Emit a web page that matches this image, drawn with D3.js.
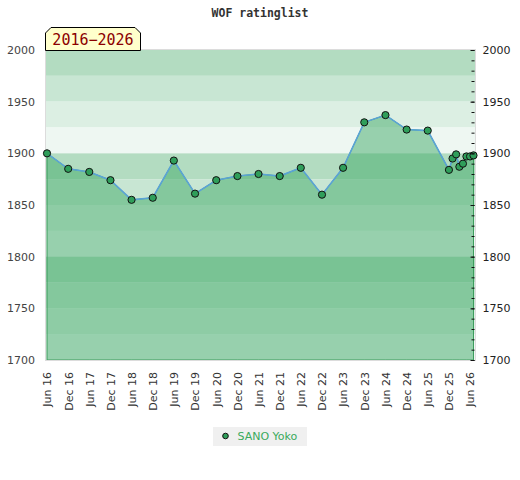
<!DOCTYPE html>
<html>
<head>
<meta charset="utf-8">
<script src="https://cdn.jsdelivr.net/npm/d3@7"></script>
<style>
  body { margin: 0; background: #fff; }
  svg { display: block; }
</style>
</head>
<body>
<div id="chart"></div>
<script>
// Rating list dates and values
const dates = [
  "2016-06", "2016-12", "2017-06", "2017-12", "2018-06", "2018-12",
  "2019-06", "2019-12", "2020-06", "2020-12", "2021-06", "2021-12",
  "2022-06", "2022-12", "2023-06", "2023-12", "2024-06", "2024-12",
  "2025-06", "2025-12", "2026-01", "2026-02", "2026-03", "2026-04",
  "2026-05", "2026-06", "2026-07"
];
const ratings = [
  1900, 1885, 1882, 1874, 1855, 1857,
  1893, 1861, 1874, 1878, 1880, 1878,
  1886, 1860, 1886, 1930, 1937, 1923,
  1922, 1884, 1895, 1899, 1887, 1890,
  1897, 1897, 1898
];
const tickDates = [
  "2016-06", "2016-12", "2017-06", "2017-12", "2018-06", "2018-12",
  "2019-06", "2019-12", "2020-06", "2020-12", "2021-06", "2021-12",
  "2022-06", "2022-12", "2023-06", "2023-12", "2024-06", "2024-12",
  "2025-06", "2025-12", "2026-06"
];
const yTicks = [1700, 1750, 1800, 1850, 1900, 1950, 2000];
const playerName = "SANO Yoko";
const chartTitle = "WOF ratinglist";
const periodLabel = "2016\u22122026";

const totalWidth = 520, totalHeight = 480;
const plot = { left: 46, right: 475, top: 50, bottom: 360 };

const parseMonth = d3.timeParse("%Y-%m");
const data = dates.map((d, i) => ({ date: parseMonth(d), value: ratings[i] }));

const svg = d3.select("#chart")
  .append("svg")
  .attr("width", totalWidth)
  .attr("height", totalHeight)
  .style("font-family", "'DejaVu Sans', sans-serif");

// Scales
const x = d3.scaleTime()
  .domain(d3.extent(data, d => d.date))
  .range([plot.left + 1, plot.right - 1.5]);

const y = d3.scaleLinear()
  .domain([1700, 2000])
  .range([plot.bottom, plot.top]);

// Background bands, 25 points each, repeating every 100
const bandColors = ["#b3dcc1", "#c8e6d3", "#dcefe3", "#eef7f2"];
const bands = d3.range(2000, 1700, -25);
svg.append("g")
  .selectAll("rect")
  .data(bands)
  .enter()
  .append("rect")
  .attr("x", plot.left)
  .attr("width", plot.right - plot.left)
  .attr("y", d => y(d))
  .attr("height", d => y(d - 25) - y(d))
  .attr("fill", (d, i) => bandColors[i % 4]);

// Area under the rating line
const area = d3.area()
  .x(d => x(d.date))
  .y0(y(1700))
  .y1(d => y(d.value));

svg.append("path")
  .datum(data)
  .attr("d", area)
  .attr("fill", "rgb(64,170,104)")
  .attr("fill-opacity", 0.5)
  .attr("stroke", "#3c9c5c")
  .attr("stroke-width", 1);

// Plot frame
svg.append("rect")
  .attr("x", plot.left - 0.5)
  .attr("y", plot.top - 0.5)
  .attr("width", plot.right - plot.left + 1)
  .attr("height", plot.bottom - plot.top + 1)
  .attr("fill", "none")
  .attr("stroke", "#dcdcdc");

// Rating line
const line = d3.line()
  .x(d => x(d.date))
  .y(d => y(d.value));

svg.append("path")
  .datum(data)
  .attr("d", line)
  .attr("fill", "none")
  .attr("stroke", "#5ba3d6")
  .attr("stroke-width", 1.6);

// Points
svg.append("g")
  .selectAll("circle")
  .data(data)
  .enter()
  .append("circle")
  .attr("cx", d => x(d.date))
  .attr("cy", d => y(d.value))
  .attr("r", 3.6)
  .attr("fill", "#2f9e5a")
  .attr("stroke", "#111")
  .attr("stroke-width", 1);

// Left axis: labels only
const leftAxis = svg.append("g")
  .attr("transform", `translate(${plot.left},0)`)
  .call(d3.axisLeft(y).tickValues(yTicks).tickSize(0).tickPadding(11).tickFormat(d3.format("d")));
leftAxis.select(".domain").remove();
leftAxis.selectAll("text")
  .attr("fill", "#444")
  .style("font-size", "11px")
  .style("font-family", "'DejaVu Sans', sans-serif");

// Right axis: minor ticks every 10, labels every 50
const rightMinor = svg.append("g")
  .attr("transform", `translate(${plot.right - 0.5},0)`)
  .call(d3.axisRight(y).tickValues(d3.range(1700, 2001, 10)).tickSize(-3).tickFormat(""));
rightMinor.select(".domain").remove();
rightMinor.selectAll("line").attr("stroke", "#111");

const rightAxis = svg.append("g")
  .attr("transform", `translate(${plot.right - 0.5},0)`)
  .call(d3.axisRight(y).tickValues(yTicks).tickSize(-4).tickPadding(8).tickFormat(d3.format("d")));
rightAxis.select(".domain").remove();
rightAxis.selectAll("line").attr("stroke", "#111");
rightAxis.selectAll("text")
  .attr("fill", "#222")
  .style("font-size", "11px")
  .style("font-family", "'DejaVu Sans', sans-serif");

// Bottom axis: rotated month labels
const xAxis = svg.append("g")
  .attr("transform", `translate(0,${plot.bottom})`)
  .call(d3.axisBottom(x)
    .tickValues(tickDates.map(parseMonth))
    .tickSize(0)
    .tickFormat(d3.timeFormat("%b %y")));
xAxis.select(".domain").remove();
xAxis.selectAll("text")
  .attr("fill", "#333")
  .style("font-size", "11px")
  .style("font-family", "'DejaVu Sans', sans-serif")
  .attr("text-anchor", "end")
  .attr("dy", "0.35em")
  .attr("transform", "translate(0,12) rotate(-90)")
  .attr("x", 0)
  .attr("y", 0);

// Title
svg.append("text")
  .attr("x", totalWidth / 2)
  .attr("y", 17)
  .attr("text-anchor", "middle")
  .attr("fill", "#333")
  .style("font-family", "'DejaVu Sans Mono', monospace")
  .style("font-weight", "bold")
  .style("font-size", "11.5px")
  .text(chartTitle);

// Period tag above the plot
const tagL = 45.5, tagR = 140.5, tagT = 27.5, tagB = 50.5, cut = 5.5;
svg.append("path")
  .attr("d", `M${tagL},${tagB} L${tagL},${tagT + cut} L${tagL + cut},${tagT} L${tagR - cut},${tagT} L${tagR},${tagT + cut} L${tagR},${tagB} Z`)
  .attr("fill", "#ffffcc")
  .attr("stroke", "#000")
  .attr("stroke-width", 1);

svg.append("text")
  .attr("x", (tagL + tagR) / 2)
  .attr("y", 45)
  .attr("text-anchor", "middle")
  .attr("fill", "#8b0000")
  .style("font-family", "'DejaVu Sans Mono', monospace")
  .style("font-size", "15px")
  .text(periodLabel);

// Legend
const legend = svg.append("g").attr("transform", "translate(213,427)");
legend.append("rect")
  .attr("width", 94)
  .attr("height", 19)
  .attr("fill", "#f0f0f0");
legend.append("circle")
  .attr("cx", 12.5)
  .attr("cy", 9)
  .attr("r", 2.8)
  .attr("fill", "#2f9e5a")
  .attr("stroke", "#111")
  .attr("stroke-width", 1);
legend.append("text")
  .attr("x", 24.5)
  .attr("y", 13)
  .attr("fill", "#3aaa5c")
  .style("font-size", "11px")
  .text(playerName);
</script>
</body>
</html>
